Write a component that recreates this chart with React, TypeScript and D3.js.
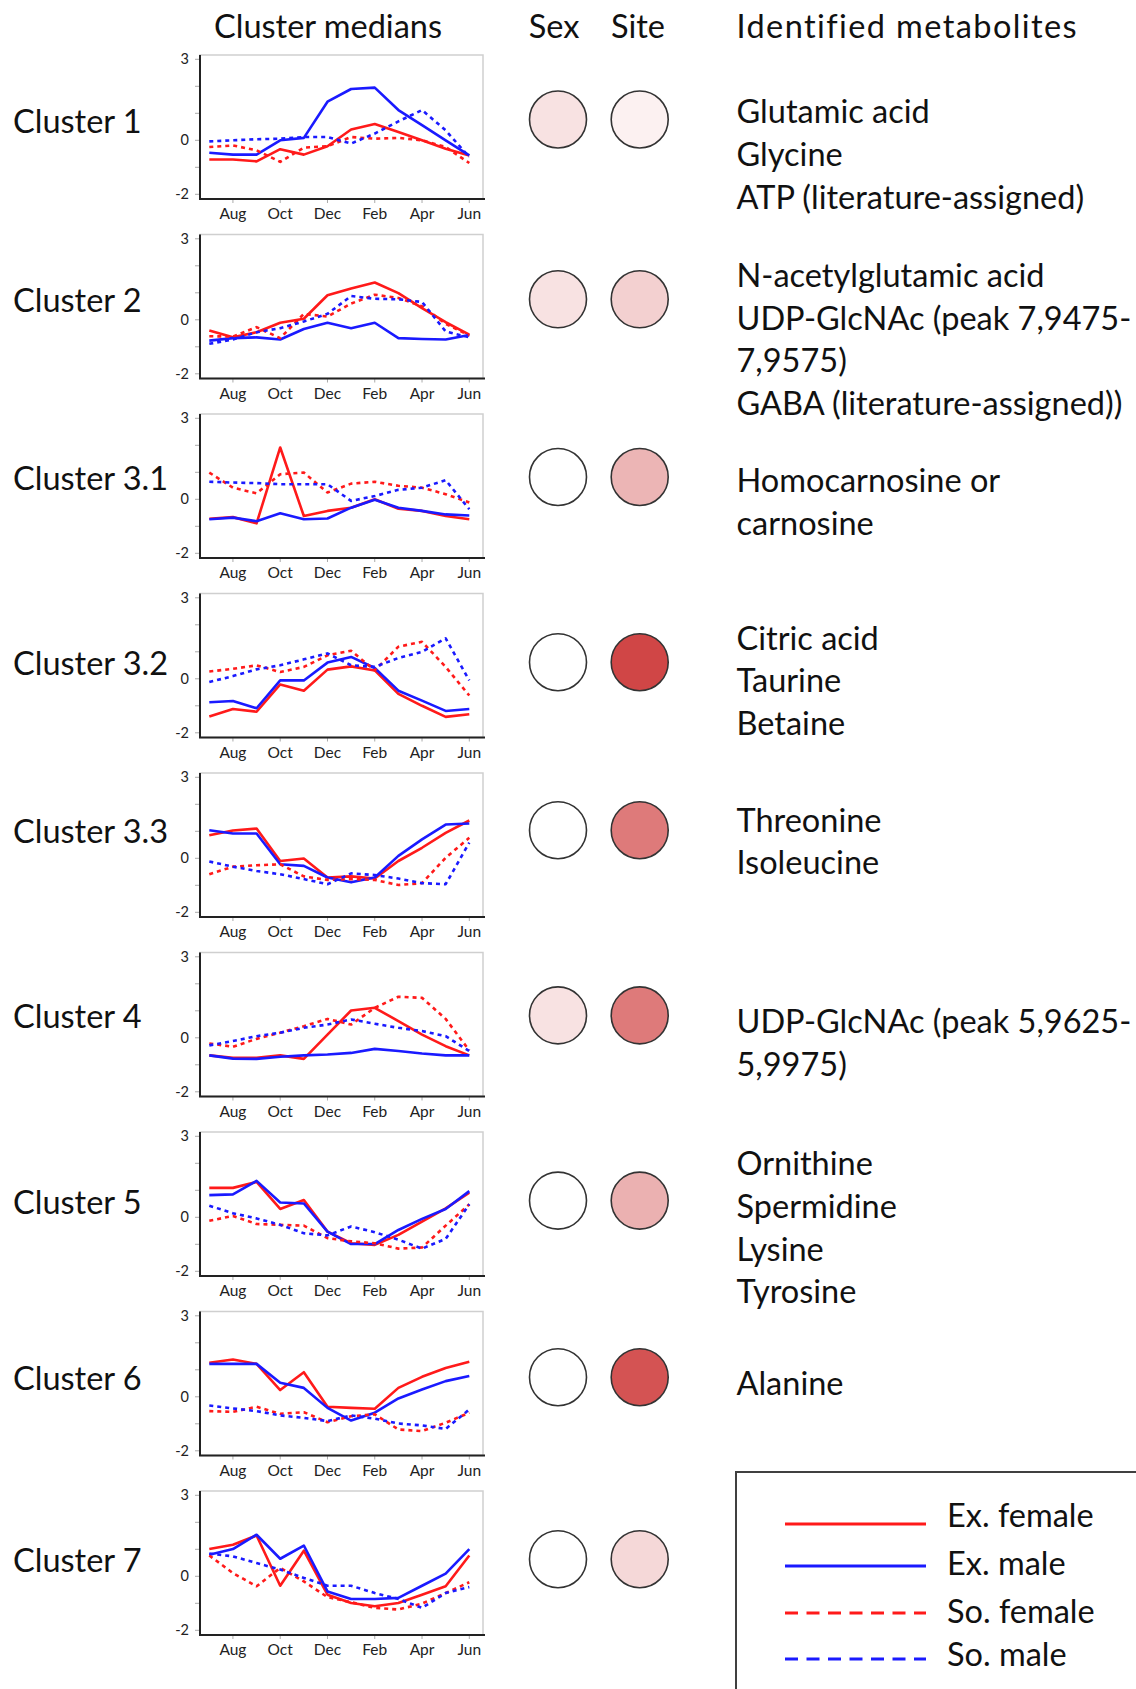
import React from 'react';
import * as d3 from 'd3';

// months sampled Jul..Jun
const months = ['Jul', 'Aug', 'Sep', 'Oct', 'Nov', 'Dec', 'Jan', 'Feb', 'Mar', 'Apr', 'May', 'Jun'];
const tickMonths = ['Aug', 'Oct', 'Dec', 'Feb', 'Apr', 'Jun'];
const yTickLabels = [3, 0, -2];

const clusterNames = [
  'Cluster 1', 'Cluster 2', 'Cluster 3.1', 'Cluster 3.2', 'Cluster 3.3',
  'Cluster 4', 'Cluster 5', 'Cluster 6', 'Cluster 7',
];

const metabolites = [
  ['Glutamic acid', 'Glycine', 'ATP (literature-assigned)'],
  ['N-acetylglutamic acid', 'UDP-GlcNAc (peak 7,9475-', '7,9575)', 'GABA (literature-assigned))'],
  ['Homocarnosine or', 'carnosine'],
  ['Citric acid', 'Taurine', 'Betaine'],
  ['Threonine', 'Isoleucine'],
  ['UDP-GlcNAc (peak 5,9625-', '5,9975)'],
  ['Ornithine', 'Spermidine', 'Lysine', 'Tyrosine'],
  ['Alanine'],
  [],
];

// effect strength for the Sex / Site circles (0 = none)
const sexScore = [0.15, 0.15, 0, 0, 0, 0.15, 0, 0, 0];
const siteScore = [0.07, 0.24, 0.38, 0.95, 0.68, 0.68, 0.4, 0.88, 0.2];

const exFemale = [
  [-0.71, -0.71, -0.78, -0.33, -0.53, -0.22, 0.4, 0.6, 0.31, 0, -0.31, -0.56],
  [-0.4, -0.65, -0.46, -0.11, 0.04, 0.91, 1.16, 1.38, 0.99, 0.43, -0.09, -0.55],
  [-0.72, -0.66, -0.89, 1.92, -0.62, -0.43, -0.31, 0, -0.35, -0.43, -0.62, -0.74],
  [-1.4, -1.12, -1.22, -0.21, -0.44, 0.34, 0.46, 0.31, -0.56, -1.0, -1.41, -1.31],
  [0.85, 1.03, 1.1, -0.1, -0.01, -0.71, -0.67, -0.75, -0.1, 0.39, 0.94, 1.4],
  [-0.65, -0.74, -0.74, -0.65, -0.78, 0.12, 1.01, 1.11, 0.62, 0.12, -0.31, -0.65],
  [1.09, 1.09, 1.31, 0.31, 0.64, -0.53, -0.96, -1.02, -0.65, -0.16, 0.33, 0.91],
  [1.26, 1.38, 1.22, 0.25, 0.91, -0.37, -0.41, -0.44, 0.33, 0.74, 1.07, 1.3],
  [1.01, 1.17, 1.51, -0.35, 0.95, -0.68, -0.99, -1.11, -0.99, -0.68, -0.37, 0.77],
];

const exMale = [
  [-0.46, -0.53, -0.53, 0, 0.09, 1.43, 1.9, 1.95, 1.12, 0.56, 0, -0.56],
  [-0.77, -0.68, -0.65, -0.73, -0.34, -0.11, -0.31, -0.11, -0.68, -0.71, -0.73, -0.56],
  [-0.74, -0.68, -0.81, -0.52, -0.74, -0.71, -0.31, -0.02, -0.31, -0.43, -0.56, -0.6],
  [-0.87, -0.82, -1.09, -0.06, -0.06, 0.6, 0.81, 0.4, -0.44, -0.81, -1.19, -1.12],
  [1.04, 0.92, 0.92, -0.22, -0.28, -0.71, -0.89, -0.71, 0.09, 0.7, 1.25, 1.29],
  [-0.65, -0.77, -0.78, -0.7, -0.65, -0.62, -0.56, -0.41, -0.49, -0.58, -0.65, -0.65],
  [0.82, 0.85, 1.35, 0.55, 0.51, -0.53, -0.99, -0.99, -0.47, -0.06, 0.31, 0.97],
  [1.22, 1.22, 1.22, 0.52, 0.33, -0.41, -0.88, -0.59, -0.06, 0.27, 0.58, 0.77],
  [0.8, 1.01, 1.54, 0.65, 1.14, -0.56, -0.84, -0.84, -0.8, -0.35, 0.1, 1.01],
];

const soFemale = [
  [-0.25, -0.19, -0.37, -0.8, -0.27, -0.22, 0.12, 0.06, 0.09, 0, -0.25, -0.84],
  [-0.61, -0.62, -0.27, -0.68, 0.22, 0.12, 0.6, 0.93, 0.81, 0.5, -0.15, -0.58],
  [0.99, 0.43, 0.22, 0.93, 0.99, 0.25, 0.58, 0.65, 0.5, 0.43, 0.19, -0.12],
  [0.27, 0.37, 0.5, 0.25, 0.44, 0.87, 1.04, 0.31, 1.19, 1.37, 0.44, -0.62],
  [-0.59, -0.31, -0.26, -0.22, -0.67, -0.8, -0.77, -0.8, -0.99, -0.92, 0.02, 0.76],
  [-0.21, -0.33, -0.04, 0.19, 0.43, 0.7, 0.49, 1.11, 1.52, 1.48, 0.7, -0.47],
  [-0.13, 0.05, -0.25, -0.28, -0.31, -0.77, -0.89, -0.96, -1.16, -1.12, -0.31, 0.48],
  [-0.53, -0.56, -0.37, -0.63, -0.57, -0.94, -0.72, -0.65, -1.21, -1.27, -0.96, -0.59],
  [0.77, 0.12, -0.37, 0.31, -0.19, -0.77, -0.96, -1.17, -1.23, -1.01, -0.62, -0.22],
];

const soMale = [
  [-0.04, 0, 0.04, 0.06, 0.12, 0.12, -0.12, 0.25, 0.7, 1.12, 0.37, -0.62],
  [-0.89, -0.73, -0.46, -0.31, -0.06, 0.22, 0.88, 0.78, 0.76, 0.66, -0.43, -0.65],
  [0.65, 0.62, 0.6, 0.56, 0.56, 0.56, -0.06, 0.12, 0.35, 0.43, 0.71, -0.37],
  [-0.12, 0.1, 0.35, 0.5, 0.72, 0.94, 0.5, 0.44, 0.77, 1.0, 1.5, -0.06],
  [-0.12, -0.31, -0.47, -0.59, -0.77, -0.96, -0.56, -0.62, -0.75, -0.92, -0.96, 0.58],
  [-0.28, -0.12, 0.06, 0.19, 0.37, 0.49, 0.68, 0.52, 0.37, 0.25, 0.06, -0.49],
  [0.43, 0.15, -0.04, -0.28, -0.59, -0.67, -0.34, -0.55, -0.83, -1.16, -0.8, 0.48],
  [-0.32, -0.43, -0.53, -0.69, -0.78, -0.9, -0.69, -0.81, -0.99, -1.06, -1.19, -0.47],
  [0.84, 0.74, 0.49, 0.25, -0.06, -0.35, -0.35, -0.62, -0.84, -1.17, -0.62, -0.4],
];

const legendLabels = ['Ex. female', 'Ex. male', 'So. female', 'So. male'];

const RED = '#ff1a1a';
const BLUE = '#1a1aff';
const FONT = 'Lato, "Open Sans", sans-serif';

// layout
const PANEL_STEP = 179.5;
const rowCenter = [119.5, 119.8, 118, 123.7, 112.2, 117.9, 123.6, 120.7, 123.2];
const textTop = [112, 96.2, 122, 100, 102.5, 124.5, 87, 127.3, 0];
const LINE_H = 42.8;
const BIG = 32.5;
const legendLineY = [1524, 1566, 1613, 1659];
const legendTextY = [1516, 1563.5, 1612, 1655];

const series = [
  { label: legendLabels[0], data: exFemale, color: RED, dash: '' },
  { label: legendLabels[1], data: exMale, color: BLUE, dash: '' },
  { label: legendLabels[2], data: soFemale, color: RED, dash: '4 4' },
  { label: legendLabels[3], data: soMale, color: BLUE, dash: '4 4' },
];

const x = d3.scalePoint<string>().domain(months).range([209.3, 469.3]);
const y = d3.scaleLinear().domain([-2, 3]).range([194.3, 59.3]);
const line = d3.line<number>().x((_, i) => x(months[i]) as number).y(d => y(d));
const fill = d3.scaleLinear<string>().domain([0, 1]).range(['#ffffff', '#ce3c3c']);

const Panel: React.FC<{ idx: number }> = ({ idx }) => {
  const left = 200, right = 483, top = 55, bottom = 199;
  return (
    <g transform={`translate(0,${idx * PANEL_STEP})`}>
      <rect x={left} y={top} width={right - left} height={bottom - top} fill="#fff" stroke="#cfcfcf" strokeWidth={1.5} />
      {y.ticks(5).map(t => (
        <line key={t} x1={195} x2={left} y1={y(t)} y2={y(t)} stroke="#aaa" strokeWidth={1} />
      ))}
      {yTickLabels.map(t => (
        <text key={t} x={189} y={y(t) + 5} textAnchor="end" fontSize={14.5} fill="#222" fontFamily={FONT}>{t}</text>
      ))}
      {tickMonths.map(m => (
        <g key={m}>
          <line x1={x(m)} x2={x(m)} y1={bottom} y2={bottom + 4} stroke="#aaa" strokeWidth={1} />
          <text x={x(m)} y={bottom + 20} textAnchor="middle" fontSize={15.5} fill="#222" fontFamily={FONT}>{m}</text>
        </g>
      ))}
      <line x1={left} x2={left} y1={top} y2={bottom} stroke="#222" strokeWidth={2} />
      <line x1={left - 1} x2={right + 2} y1={bottom} y2={bottom} stroke="#222" strokeWidth={2} />
      {series.map(s => (
        <path key={s.label} d={line(s.data[idx]) || ''} fill="none" stroke={s.color}
          strokeWidth={2.6} strokeDasharray={s.dash || undefined} strokeLinejoin="round" />
      ))}
    </g>
  );
};

export default function App() {
  return (
    <svg width={1136} height={1689} style={{ position: 'absolute', left: 0, top: 0, background: '#fff' }}
      fontFamily={FONT}>
      <rect width={1136} height={1689} fill="#fff" />
      <text x={214} y={38} fontSize={BIG} fill="#111">Cluster medians</text>
      <text x={554} y={38} fontSize={BIG} fill="#111" textAnchor="middle">Sex</text>
      <text x={638} y={38} fontSize={BIG} fill="#111" textAnchor="middle">Site</text>
      <text x={736.5} y={38} fontSize={BIG} fill="#111" letterSpacing={1.4}>Identified metabolites</text>

      {clusterNames.map((name, i) => {
        const off = i * PANEL_STEP;
        return (
          <g key={name}>
            <Panel idx={i} />
            <text x={13} y={off + rowCenter[i] + 2 + 11} fontSize={BIG} fill="#111">{name}</text>
            <circle cx={558} cy={off + rowCenter[i]} r={28.5} fill={fill(sexScore[i])} stroke="#333" strokeWidth={1.6} />
            <circle cx={639.7} cy={off + rowCenter[i]} r={28.5} fill={fill(siteScore[i])} stroke="#333" strokeWidth={1.6} />
            {metabolites[i].map((m, j) => (
              <text key={j} x={736.5} y={off + textTop[i] + j * LINE_H + 11} fontSize={BIG} fill="#111">{m}</text>
            ))}
          </g>
        );
      })}

      <g>
        <rect x={736} y={1472} width={500} height={300} fill="#fff" stroke="#404040" strokeWidth={2} />
        {series.map((s, i) => (
          <g key={s.label}>
            <line x1={785} x2={926} y1={legendLineY[i]} y2={legendLineY[i]} stroke={s.color} strokeWidth={3}
              strokeDasharray={s.dash ? '13 8.5' : undefined} />
            <text x={947} y={legendTextY[i] + 11} fontSize={BIG} fill="#111">{s.label}</text>
          </g>
        ))}
      </g>
    </svg>
  );
}
